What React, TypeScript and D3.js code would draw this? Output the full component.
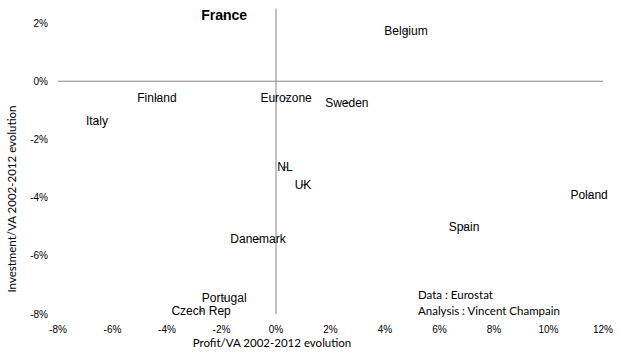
import React, { useEffect, useRef } from "react";
import * as d3 from "d3";

// country labels and values (in %)
const countries = ["France", "Belgium", "Finland", "Italy", "Eurozone", "Sweden", "NL", "UK", "Poland", "Spain", "Danemark", "Portugal", "Czech Rep"];
const profitEvolution = [-1.9, 4.77, -4.37, -6.57, 0.37, 2.6, 0.33, 0.99, 11.49, 6.9, -0.66, -1.9, -2.75];
const investEvolution = [2.24, 1.72, -0.58, -1.37, -0.58, -0.74, -2.95, -3.56, -3.91, -5.0, -5.43, -7.45, -7.9];
const highlighted = ["France"];

const xTicks = [-8, -6, -4, -2, 0, 2, 4, 6, 8, 10, 12];
const yTicks = [2, 0, -2, -4, -6, -8];
const notes = ["Data : Eurostat", "Analysis : Vincent Champain"];

const W = 622;
const H = 359;

export default function App() {
  const ref = useRef<SVGSVGElement>(null);

  useEffect(() => {
    document.body.style.margin = "0";
    const svg = d3.select(ref.current);
    svg.selectAll("*").remove();

    const x = d3.scaleLinear().domain([-8, 12]).range([58, 603]);
    const y = d3.scaleLinear().domain([2.5, -8]).range([8.5, 314]);
    const arial = "'Liberation Sans', Arial, sans-serif";
    const calib = "Lato, 'Open Sans', sans-serif";

    // crossing axis lines
    svg.append("line")
      .attr("x1", x(-8)).attr("x2", x(12))
      .attr("y1", y(0)).attr("y2", y(0))
      .attr("stroke", "#868686");
    svg.append("line")
      .attr("x1", x(0)).attr("x2", x(0))
      .attr("y1", y(2.5)).attr("y2", y(-8))
      .attr("stroke", "#868686");

    svg.append("g").selectAll("text").data(xTicks).join("text")
      .attr("x", d => x(d)).attr("y", 332.5)
      .attr("text-anchor", "middle")
      .attr("font-family", arial).attr("font-size", 10)
      .text(d => d + "%");

    svg.append("g").selectAll("text").data(yTicks).join("text")
      .attr("x", 48).attr("y", d => y(d) + 3.5)
      .attr("text-anchor", "end")
      .attr("font-family", arial).attr("font-size", 10)
      .text(d => d + "%");

    svg.append("text")
      .attr("x", 272).attr("y", 347)
      .attr("text-anchor", "middle")
      .attr("font-family", calib).attr("font-size", 11.5)
      .text("Profit/VA 2002-2012 evolution");
    svg.append("text")
      .attr("transform", "translate(16,199) rotate(-90)")
      .attr("text-anchor", "middle")
      .attr("font-family", calib).attr("font-size", 11.5)
      .text("Investment/VA 2002-2012 evolution");

    const pts = countries.map((c, i) => ({ name: c, px: profitEvolution[i], iy: investEvolution[i] }));

    // tiny markers under the labels
    svg.append("g").selectAll("line").data(pts).join("line")
      .attr("x1", d => x(d.px) - 2).attr("x2", d => x(d.px) + 2)
      .attr("y1", d => y(d.iy)).attr("y2", d => y(d.iy))
      .attr("stroke", "#4f81bd").attr("stroke-width", 1.5);

    svg.append("g").selectAll("text").data(pts).join("text")
      .attr("x", d => x(d.px)).attr("y", d => y(d.iy) + 4)
      .attr("text-anchor", "middle")
      .attr("font-family", arial)
      .attr("font-size", d => highlighted.includes(d.name) ? 14 : 12)
      .attr("font-weight", d => highlighted.includes(d.name) ? "bold" : "normal")
      .text(d => d.name);

    svg.append("g").selectAll("text").data(notes).join("text")
      .attr("x", 418).attr("y", (d, i) => 299 + i * 16)
      .attr("font-family", calib).attr("font-size", 11.5)
      .text(d => d);
  }, []);

  return <svg ref={ref} width={W} height={H} style={{ display: "block", background: "#fff" }} />;
}
